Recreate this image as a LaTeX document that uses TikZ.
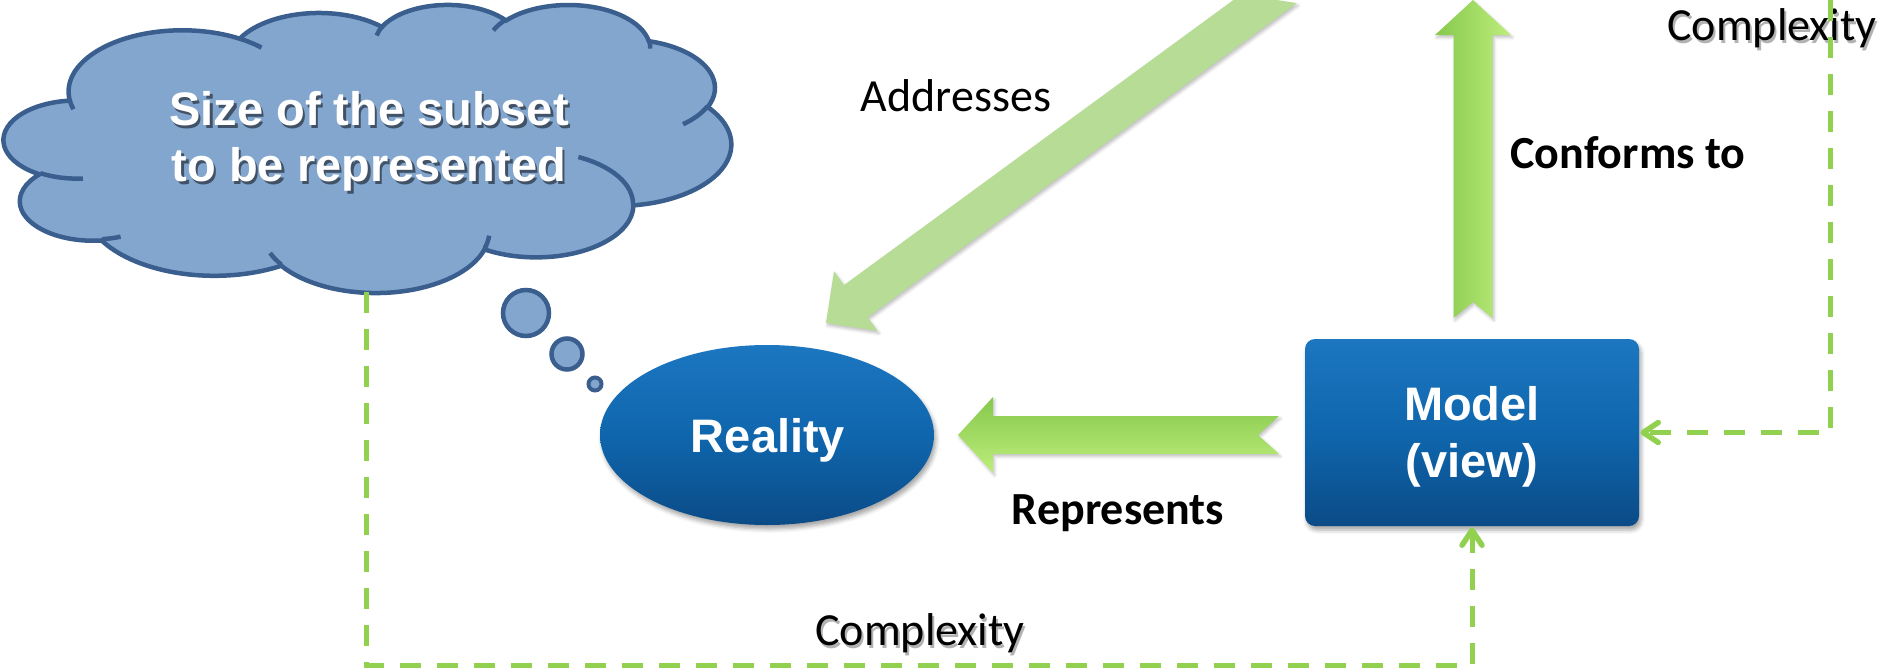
\documentclass[tikz,border=0pt]{standalone}
\usepackage{fontspec}
\setmainfont{Carlito}
\newfontfamily\arialfont{Liberation Sans}
\usetikzlibrary{shapes.geometric,calc,arrows.meta,shadows.blur}
\definecolor{cloudfill}{HTML}{83A6CF}
\definecolor{cloudedge}{HTML}{3A5F8E}
\definecolor{blueT}{HTML}{1C76C0}
\definecolor{blueM}{HTML}{0F66AD}
\definecolor{blueB}{HTML}{0B4B87}
\definecolor{gdark}{HTML}{86C84C}
\definecolor{gmid}{HTML}{9ADA5E}
\definecolor{glight}{HTML}{BDEE7C}
\definecolor{gpale}{HTML}{B7DC96}
\definecolor{dgreen}{HTML}{92D050}

% precompute cloud arc angles (PowerPoint visual angles -> parametric)
\newcommand{\cldpre}[5]{%
  \pgfmathsetmacro{\cldtmpA}{atan2((#2)*sin(#4),(#3)*cos(#4))}%
  \pgfmathsetmacro{\cldtmpB}{atan2((#2)*sin((#4)+(#5)),(#3)*cos((#4)+(#5)))}%
  \pgfmathsetmacro{\cldtmpD}{mod((\cldtmpB)-(\cldtmpA)+720,360)}%
  \expandafter\xdef\csname cldS#1\endcsname{\cldtmpA}%
  \expandafter\xdef\csname cldD#1\endcsname{\cldtmpD}%
}
\cldpre{a}{675.3}{919}{-190.4875}{123.7805}
\cldpre{b}{533.3}{726.7}{-144.1024}{89.9452}
\cldpre{c}{436.5}{594.5}{-145.8079}{99.7230}
\cldpre{d}{485.7}{659.5}{-130.9861}{117.2417}
\cldpre{e}{533.3}{727.3}{-78.7089}{109.0269}
\cldpre{f}{677.5}{922.0}{-46.2673}{130.2690}
\cldpre{g}{578.5}{786.7}{0.6250}{114.0333}
\cldpre{h}{675.2}{921.5}{22.4516}{115.1726}
\cldpre{i}{772.0}{1054.3}{66.2426}{75.7110}
\cldpre{j}{436.0}{591.8}{-274.9421}{146.7356}
\cldpre{k}{434.5}{594.5}{-246.8285}{152.5189}
\cldpre{l}{434.5}{594.5}{86.7420}{26.4295}
\cldpre{m}{436.0}{591.8}{73.6105}{11.4475}
\cldpre{n}{675.2}{921.5}{137.6242}{14.0811}
\cldpre{o}{675.2}{921.5}{6.4533}{15.9984}
\cldpre{p}{578.5}{786.7}{-70.2924}{70.9174}
\cldpre{q}{533.3}{727.3}{30.3180}{27.7515}
\cldpre{r}{485.7}{659.5}{-13.7443}{14.8604}
\cldpre{s}{485.7}{659.5}{-149.1815}{18.1968}
\cldpre{t}{436.5}{594.5}{-163.4943}{17.6873}
\cldpre{u}{675.3}{919.0}{-66.7070}{12.3194}
\cldpre{v}{675.3}{919.0}{157.6544}{11.8582}

% fat notched arrow: tail, tip, style, head length, shaft half, head half, notch
\newcommand{\fatarrow}[7]{%
  \coordinate (fahb) at ($(#2)!#4!(#1)$);
  \path[#3] ($(#1)!#5!90:(#2)$) -- ($(fahb)!#5!90:(#2)$) -- ($(fahb)!#6!90:(#2)$) -- (#2)
    -- ($(fahb)!#6!-90:(#2)$) -- ($(fahb)!#5!-90:(#2)$) -- ($(#1)!#5!-90:(#2)$)
    -- ($(#1)!#7!(#2)$) -- cycle;
}

\begin{document}
\begin{tikzpicture}[x=1pt,y=-1pt,
  cloudsty/.style={fill=cloudfill,draw=cloudedge,line width=4.5pt},
  cloudline/.style={draw=cloudedge,line width=4.5pt},
  bluesh/.style={top color=blueT,bottom color=blueB,middle color=blueM,
     blur shadow={shadow xshift=2pt,shadow yshift=-4pt,shadow opacity=35,shadow blur radius=4pt}},
  wtxt/.style={text=white,font=\arialfont\bfseries\fontsize{47}{56}\selectfont,inner sep=0pt},
  shtxtw/.style={text=black,opacity=0.5,font=\arialfont\bfseries\fontsize{47}{56}\selectfont,inner sep=0pt},
  lbl/.style={text=black,font=\fontsize{46}{55}\selectfont,inner sep=0pt},
  lblb/.style={text=black,font=\bfseries\fontsize{46}{55}\selectfont,inner sep=0pt},
  lblsh/.style={text=black,opacity=0.3,font=\fontsize{46}{55}\selectfont,inner sep=0pt},
  arrsh/.style={blur shadow={shadow xshift=1.5pt,shadow yshift=-2.5pt,shadow opacity=25,shadow blur radius=3pt}},
  cx/.style={draw=dgreen,line width=5pt,dash pattern=on 21pt off 16pt},
  cxtip/.style={draw=dgreen,line width=5.5pt,solid,line cap=round,line join=round}]
\useasboundingbox (0,0) rectangle (1885,672);

% ---- cloud ----
\begin{scope}[shift={(4,4)},x=0.16829pt,y=-0.066667pt]
\draw[cloudsty] (390,1437)
  arc[start angle=\cldSa,delta angle=\cldDa,x radius=675.3,y radius=919]
  arc[start angle=\cldSb,delta angle=\cldDb,x radius=533.3,y radius=726.7]
  arc[start angle=\cldSc,delta angle=\cldDc,x radius=436.5,y radius=594.5]
  arc[start angle=\cldSd,delta angle=\cldDd,x radius=485.7,y radius=659.5]
  arc[start angle=\cldSe,delta angle=\cldDe,x radius=533.3,y radius=727.3]
  arc[start angle=\cldSf,delta angle=\cldDf,x radius=677.5,y radius=922.0]
  arc[start angle=\cldSg,delta angle=\cldDg,x radius=578.5,y radius=786.7]
  arc[start angle=\cldSh,delta angle=\cldDh,x radius=675.2,y radius=921.5]
  arc[start angle=\cldSi,delta angle=\cldDi,x radius=772.0,y radius=1054.3]
  arc[start angle=\cldSj,delta angle=\cldDj,x radius=436.0,y radius=591.8]
  arc[start angle=\cldSk,delta angle=\cldDk,x radius=434.5,y radius=594.5]
  -- cycle;
\draw[cloudline]
  (469.3,2617.7) arc[start angle=\cldSl,delta angle=\cldDl,x radius=434.5,y radius=594.5]
  (692.8,3489.9) arc[start angle=\cldSm,delta angle=\cldDm,x radius=436.0,y radius=591.8]
  (1647.8,3909.0) arc[start angle=\cldSn,delta angle=\cldDn,x radius=675.2,y radius=921.5]
  (2882.7,3475.1) arc[start angle=\cldSo,delta angle=\cldDo,x radius=675.2,y radius=921.5]
  (3412.9,2295.4) arc[start angle=\cldSp,delta angle=\cldDp,x radius=578.5,y radius=786.7]
  (4179.8,1535.4) arc[start angle=\cldSq,delta angle=\cldDq,x radius=533.3,y radius=727.3]
  (3832.4,542.6) arc[start angle=\cldSr,delta angle=\cldDr,x radius=485.7,y radius=659.5]
  (2907.8,395.2) arc[start angle=\cldSs,delta angle=\cldDs,x radius=485.7,y radius=659.5]
  (2214.1,472.0) arc[start angle=\cldSt,delta angle=\cldDt,x radius=436.5,y radius=594.5]
  (1400.0,519.2) arc[start angle=\cldSu,delta angle=\cldDu,x radius=675.3,y radius=919.0]
  (412.7,1578.9) arc[start angle=\cldSv,delta angle=\cldDv,x radius=675.3,y radius=919.0];
\end{scope}
\coordinate (cloudbot) at (366,292);
\node[shtxtw,anchor=base] at (371.5,128) {Size of the subset};
\node[wtxt,anchor=base] (cl1) at (369,125) {Size of the subset};
\node[shtxtw,anchor=base] at (371.5,184) {to be represented};
\node[wtxt,anchor=base] (cl2) at (369,181) {to be represented};

% thought bubbles
\draw[cloudsty] (526,313) circle[radius=23];
\draw[cloudsty] (567,354) circle[radius=15.5];
\draw[cloudsty,line width=4pt] (595,384) circle[radius=6.5];

% ---- main nodes ----
\node[ellipse,bluesh,minimum width=334pt,minimum height=180pt,inner sep=0pt] (reality) at (767,435) {};
\node[wtxt,anchor=base] (realtxt) at (768,452) {Reality};
\node[rectangle,rounded corners=10pt,bluesh,minimum width=334pt,minimum height=187pt,inner sep=0pt] (model) at (1472,432.5) {};
\node[wtxt,anchor=base] (modtxt1) at (1472,420) {Model};
\node[wtxt,anchor=base] (modtxt2) at (1472,477) {(view)};

% ---- fat arrows ----
\coordinate (adT) at (1285,-13);
\coordinate (adP) at (826,323);
\fatarrow{adT}{adP}{fill=gpale,arrsh}{37pt}{20pt}{37pt}{20pt}
\coordinate (cfT) at (1473,318);
\coordinate (cfP) at (1473,0);
\fatarrow{cfT}{cfP}{left color=gdark,middle color=gmid,right color=glight,arrsh}{35pt}{19.5pt}{38pt}{16pt}
\coordinate (rpT) at (1279,435);
\coordinate (rpP) at (958,435);
\fatarrow{rpT}{rpP}{top color=gdark,middle color=gmid,bottom color=glight,arrsh}{35pt}{19pt}{38pt}{21pt}

% ---- labels ----
\node[lbl,anchor=base] (addr) at (956,111) {Addresses};
\node[lblb,anchor=base] (conf) at (1628,168) {Conforms to};
\node[lblb,anchor=base] (repr) at (1118,524) {Represents};
\node[lblsh,anchor=base] at (1774,43) {Complexity};
\node[lbl,anchor=base] (cpx1) at (1772,40) {Complexity};
\node[lblsh,anchor=base] at (922,648) {Complexity};
\node[lbl,anchor=base] (cpx2) at (920,645) {Complexity};

% ---- dashed complexity connectors ----
\coordinate (lowL) at (366,665);
\coordinate (topR) at (1830,0);
\draw[cx] (cloudbot) -- (lowL) -| ($(model.south)+(0,6)$);
\draw[cx] (topR) |- ($(model.east)+(6,0)$);
\draw[cxtip] ($(model.south)+(-10,19)$) -- ($(model.south)+(0,4)$) -- ($(model.south)+(10,19)$);
\draw[cxtip] ($(model.east)+(19,-10)$) -- ($(model.east)+(4,0)$) -- ($(model.east)+(19,10)$);
\end{tikzpicture}
\end{document}
